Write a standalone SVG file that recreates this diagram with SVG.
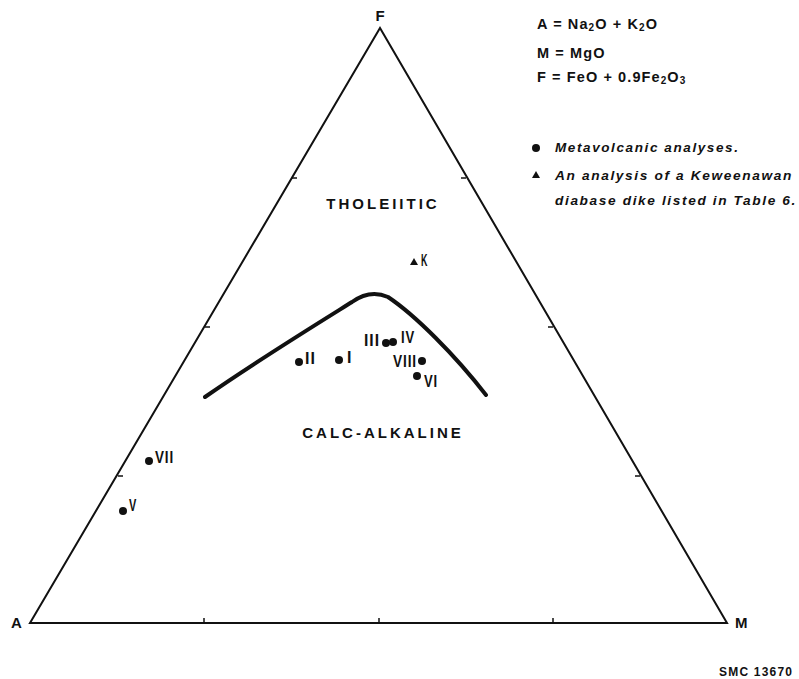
<svg xmlns="http://www.w3.org/2000/svg" width="799" height="679" viewBox="0 0 799 679">
<style>
text{font-family:"Liberation Sans",Arial,sans-serif;fill:#111;font-weight:bold}
.frame{fill:none;stroke:#111;stroke-width:2;stroke-linejoin:miter}
.tick{stroke:#111;stroke-width:1.5}
.bound{fill:none;stroke:#111;stroke-width:4;stroke-linecap:round;stroke-linejoin:round}
.dot{fill:#111}
.num{font-size:16px;letter-spacing:1px}
.corner{font-size:15px}
.region{font-size:15px;letter-spacing:3px;text-anchor:middle}
.leg{font-size:14.5px;letter-spacing:1.1px}
.legi{font-size:13.5px;font-style:italic;letter-spacing:1.6px}
.sub{font-size:10px}
</style>
<rect width="799" height="679" fill="#fff"/>
<g id="frame">
<path class="frame" d="M30,623 L380,28 L727,623 Z"/>
<g class="tick">
<line x1="204" y1="623" x2="204" y2="618"/>
<line x1="379" y1="623" x2="379" y2="618"/>
<line x1="553" y1="623" x2="553" y2="618"/>
<line x1="292" y1="178" x2="297" y2="178"/>
<line x1="205" y1="327" x2="210" y2="327"/>
<line x1="118" y1="476" x2="123" y2="476"/>
<line x1="466" y1="178" x2="461" y2="178"/>
<line x1="553" y1="327" x2="548" y2="327"/>
<line x1="640" y1="476" x2="635" y2="476"/>
</g>
<text class="corner" x="11" y="628">A</text>
<text class="corner" x="735" y="628">M</text>
<text class="corner" x="380" y="21" text-anchor="middle" font-size="13">F</text>
</g>
<g id="boundary">
<path class="bound" d="M205,397 C255,362 320,322 352,302 Q370,289 388,297 C415,315 455,355 486,395"/>
</g>
<text id="tholeiitic" class="region" x="383" y="209">THOLEIITIC</text>
<text id="calc-alkaline" class="region" x="383" y="438" letter-spacing="1.5">CALC-ALKALINE</text>
<g id="connectors"></g>
<g id="pt-I"><circle class="dot" cx="339" cy="360" r="4"/><text class="num" x="347" y="363">I</text></g>
<g id="pt-II"><circle class="dot" cx="299" cy="362" r="4"/><text class="num" x="305" y="364">II</text></g>
<g id="pt-III"><circle class="dot" cx="386" cy="343" r="4"/><text class="num" x="364" y="346" textLength="16" lengthAdjust="spacingAndGlyphs">III</text></g>
<g id="pt-IV"><circle class="dot" cx="393" cy="342" r="4"/><text class="num" x="401" y="343" textLength="14" lengthAdjust="spacingAndGlyphs">IV</text></g>
<g id="pt-V"><circle class="dot" cx="123" cy="511" r="4"/><text class="num" x="129" y="511" textLength="8" lengthAdjust="spacingAndGlyphs">V</text></g>
<g id="pt-VI"><circle class="dot" cx="417" cy="376" r="4"/><text class="num" x="424" y="387" textLength="14" lengthAdjust="spacingAndGlyphs">VI</text></g>
<g id="pt-VII"><circle class="dot" cx="149" cy="461" r="4"/><text class="num" x="155" y="463" textLength="19" lengthAdjust="spacingAndGlyphs">VII</text></g>
<g id="pt-VIII"><circle class="dot" cx="422" cy="361" r="4"/><text class="num" x="393" y="367" textLength="24" lengthAdjust="spacingAndGlyphs">VIII</text></g>
<g id="pt-K"><path class="dot" d="M414,258 L418,265 L410,265 Z"/><text class="num" x="421" y="266" textLength="7" lengthAdjust="spacingAndGlyphs">K</text></g>
<g id="legend">
<text class="leg" x="537" y="29">A = Na<tspan class="sub" dy="2">2</tspan><tspan dy="-2">O + K</tspan><tspan class="sub" dy="2">2</tspan><tspan dy="-2">O</tspan></text>
<text class="leg" x="537" y="58">M = MgO</text>
<text class="leg" x="537" y="82">F = FeO + 0.9Fe<tspan class="sub" dy="2">2</tspan><tspan dy="-2">O</tspan><tspan class="sub" dy="2">3</tspan></text>
<circle class="dot" cx="536" cy="148" r="4"/>
<text class="legi" x="555" y="152">Metavolcanic analyses.</text>
<path class="dot" d="M536,171 L540,178 L532,178 Z"/>
<text class="legi" x="555" y="180" textLength="238" lengthAdjust="spacingAndGlyphs">An analysis of a Keweenawan</text>
<text class="legi" x="555" y="205" textLength="242" lengthAdjust="spacingAndGlyphs">diabase dike listed in Table 6.</text>
</g>
<text id="ref" x="719" y="676" font-size="12" letter-spacing="1.2" font-weight="normal">SMC 13670</text>
</svg>
